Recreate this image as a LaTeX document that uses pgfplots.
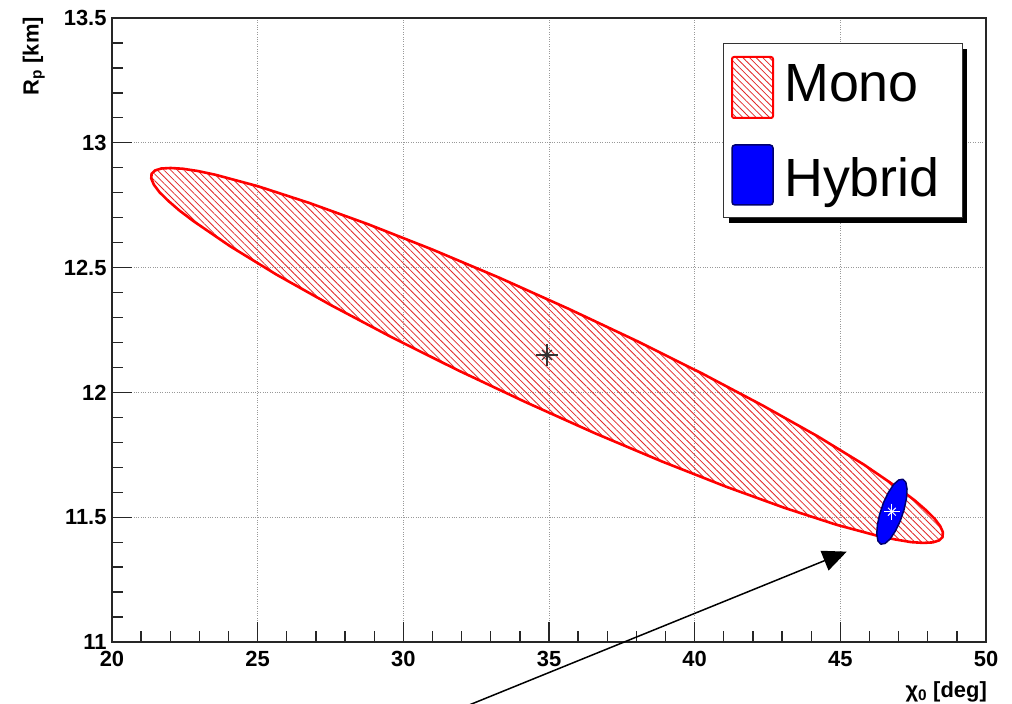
\documentclass[border=0pt]{standalone}
\usepackage{fontspec}
\setmainfont{Liberation Sans}
\usepackage{pgfplots}
\pgfplotsset{compat=1.18}
\usetikzlibrary{patterns.meta, arrows.meta}
\definecolor{navy}{RGB}{0,0,110}
\definecolor{hatchred}{RGB}{225,40,40}

\begin{document}
\begin{tikzpicture}[x=1bp,y=1bp]
\path[use as bounding box] (0,0) rectangle (1012,704);
\begin{axis}[
  at={(112bp,62bp)}, anchor=south west, scale only axis,
  width=874bp, height=624bp,
  xmin=20, xmax=50, ymin=11, ymax=13.5,
  xtick={20,25,30,35,40,45,50},
  ytick={11,11.5,12,12.5,13,13.5},
  minor x tick num=4, minor y tick num=4,
  tick align=inside, tick pos=left,
  major tick length=20bp, minor tick length=11bp,
  grid=major,
  major grid style={dotted, gray!80, line width=0.8bp},
  axis line style={line width=1.3bp, black!85},
  every tick/.style={black!85, line width=1.3bp},
  /pgf/number format/assume math mode=true,
  ticklabel style={font=\bfseries\fontsize{22}{26}\selectfont},
  yticklabel style={xshift=-2bp},
  xticklabel style={yshift=-6bp},
  clip=false,
]
% Mono 1-sigma region
\addplot[draw=red, line width=2.6bp, line join=round,
  pattern={Lines[angle=-45, distance=4.7bp, line width=0.8bp]},
  pattern color=hatchred] coordinates {
(48.507,11.420) (48.391,11.407) (48.173,11.399) (47.853,11.397)
(47.436,11.400) (46.924,11.410) (46.320,11.424)
(44.858,11.470) (43.094,11.537) (41.082,11.622) (38.883,11.723)
(36.564,11.837) (34.197,11.961) (31.852,12.090) (29.599,12.221)
(27.508,12.350) (25.644,12.472) (24.062,12.585) (22.810,12.685)
(22.320,12.728) (21.926,12.768) (21.631,12.802) (21.437,12.832)
(21.347,12.857) (21.359,12.876) (21.475,12.889) (21.693,12.897)
(22.013,12.899) (22.430,12.896) (22.942,12.887) (23.546,12.872)
(25.008,12.826) (26.772,12.759)
(28.784,12.674) (30.983,12.573) (33.302,12.459) (35.669,12.335)
(38.014,12.206) (40.267,12.075) (42.358,11.946) (44.222,11.824)
(45.804,11.711) (47.056,11.611) (47.546,11.568) (47.940,11.528)
(48.235,11.494) (48.429,11.464) (48.519,11.440)
} -- cycle;
% Hybrid region
\addplot[draw=navy, line width=1.5bp, line join=round, fill=blue] coordinates {
(47.148,11.652) (47.247,11.640) (47.289,11.613) (47.269,11.575)
(47.188,11.531) (47.057,11.485) (46.891,11.445) (46.711,11.413)
(46.538,11.395) (46.392,11.392) (46.293,11.404) (46.251,11.431)
(46.271,11.469) (46.352,11.513) (46.483,11.559) (46.649,11.599)
(46.829,11.631) (47.002,11.649)
} -- cycle;
% best-fit points
\addplot[only marks, mark=+, mark size=11bp, black!80, line width=1.1bp] coordinates {(34.93,12.15)};
\addplot[only marks, mark=x, mark size=7bp, black!80, line width=1.1bp] coordinates {(34.93,12.15)};
\addplot[only marks, mark=+, mark size=8bp, white, line width=1bp] coordinates {(46.77,11.522)};
\addplot[only marks, mark=x, mark size=5.5bp, white, line width=1bp] coordinates {(46.77,11.522)};
% arrow
\draw[line width=1.5bp, -{Triangle[length=24bp, width=21bp]}] (axis cs:30.99,10.6875) -- (axis cs:45.22,11.362);
\end{axis}
% axis titles
\node[rotate=90, anchor=south east, inner sep=0pt, font=\bfseries\fontsize{22}{26}\selectfont] at (45,687) {R\textsubscript{p} [km]};
\node[anchor=north east, inner sep=0pt, font=\bfseries\fontsize{22}{26}\selectfont] at (987,23) {χ\textsubscript{0} [deg]};
% legend
\fill[black] (729,655) rectangle (967,481);
\draw[black!80, line width=0.8bp, fill=white] (723,661) rectangle (962,487);
\draw[red, line width=2bp, rounded corners=2bp,
  pattern={Lines[angle=-45, distance=4.7bp, line width=0.8bp]}, pattern color=hatchred]
  (732,647) rectangle (773,586);
\draw[navy, line width=1.5bp, rounded corners=3bp, fill=blue] (732,559) rectangle (773,499);
\node[anchor=base west, inner sep=0pt, font=\fontsize{54}{60}\selectfont] at (784,602) {Mono};
\node[anchor=base west, inner sep=0pt, font=\fontsize{54}{60}\selectfont] at (784,507) {Hybrid};
\end{tikzpicture}
\end{document}
